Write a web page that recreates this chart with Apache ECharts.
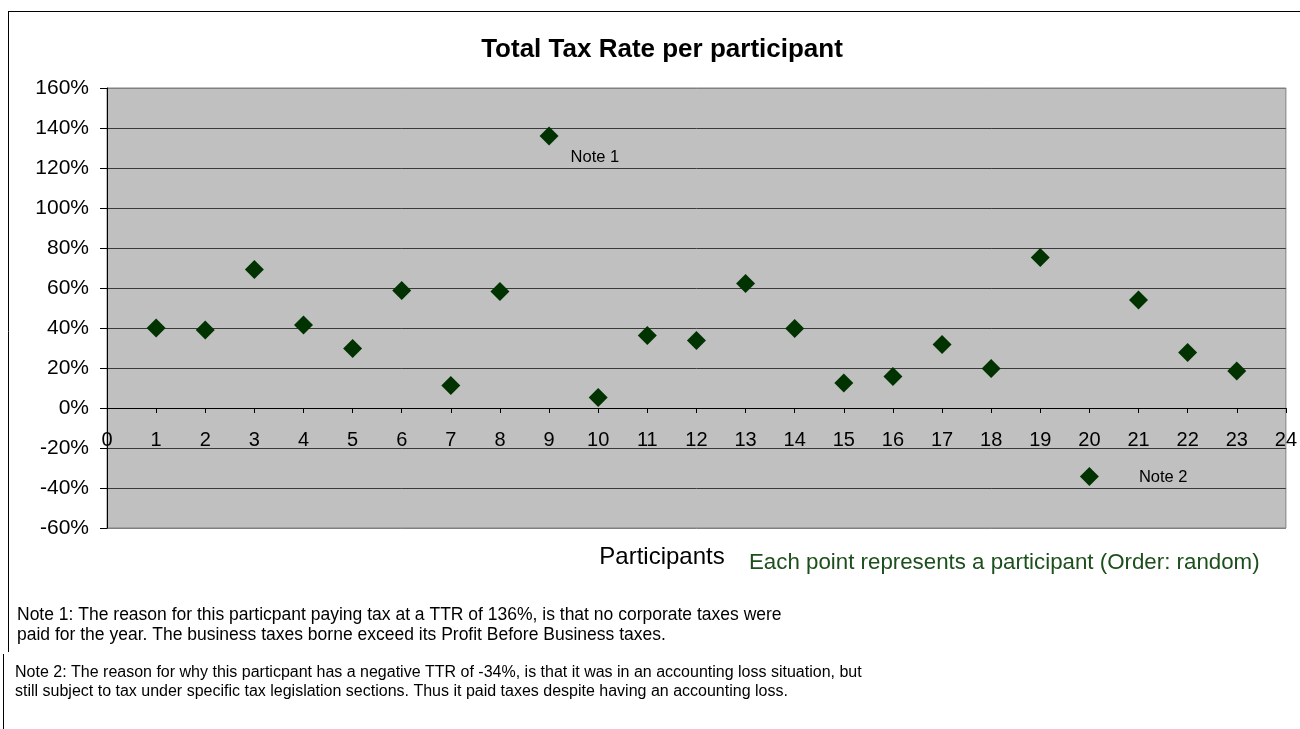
<!DOCTYPE html>
<html>
<head>
<meta charset="utf-8">
<script src="https://cdn.jsdelivr.net/npm/echarts@6/dist/echarts.min.js"></script>
<style>
  html, body { margin: 0; padding: 0; background: #fff; }
  #chart { width: 1300px; height: 729px; }
</style>
</head>
<body>
<div id="chart"></div>
<script>
  // Data
  const participants = [1, 2, 3, 4, 5, 6, 7, 8, 9, 10, 11, 12, 13, 14, 15, 16, 17, 18, 19, 20, 21, 22, 23];
  const ttr = [40, 39, 69.3, 41.5, 29.7, 58.7, 11.2, 58.2, 136, 5.3, 36.3, 33.7, 62.2, 39.7, 12.5, 15.8, 31.8, 19.8, 75.3, -34.3, 54, 27.7, 18.5];
  const notes = { 9: 'Note 1', 20: 'Note 2' };
  const yTicks = [-60, 160, 20];   // min, max, step
  const xTicks = [0, 24, 1];

  const font = 'Liberation Sans, Arial, sans-serif';
  const chart = echarts.init(document.getElementById('chart'));

  const points = participants.map((p, i) => {
    const item = { value: [p, ttr[i]] };
    if (p === 9) {
      item.label = { show: true, formatter: notes[9], position: 'right', offset: [7, 21] };
    } else if (p === 20) {
      item.label = { show: true, formatter: notes[20], position: 'right', offset: [35, 1] };
    }
    return item;
  });

  // grid line colours: border colour at the two ends, dark in between
  const splitColors = [];
  const nLines = (yTicks[1] - yTicks[0]) / yTicks[2] + 1;
  for (let i = 0; i < nLines; i++) {
    splitColors.push(i === 0 || i === nLines - 1 ? '#808080' : '#3a3a3a');
  }

  const gridTop = 88, gridBottom = 201, chartH = 729;
  // the x axis crosses at 0%: shift it up from the bottom edge of the plot
  const plotH = chartH - gridTop - gridBottom;
  const zeroShift = plotH * (0 - yTicks[0]) / (yTicks[1] - yTicks[0]);

  chart.setOption({
    backgroundColor: '#ffffff',
    animation: false,
    textStyle: { fontFamily: font },
    grid: {
      left: 107, right: 9, top: gridTop, bottom: gridBottom,
      show: true,
      backgroundColor: '#c0c0c0',
      borderColor: '#808080',
      borderWidth: 1
    },
    xAxis: {
      type: 'value',
      min: xTicks[0], max: xTicks[1], interval: xTicks[2],
      offset: -zeroShift,
      axisLine: { onZero: false, lineStyle: { color: '#000', width: 1 } },
      axisTick: { show: true, length: 5, lineStyle: { color: '#000' } },
      axisLabel: { color: '#000', fontSize: 20, margin: 22, fontFamily: font, showMinLabel: true, showMaxLabel: true },
      splitLine: { show: false }
    },
    yAxis: {
      type: 'value',
      min: yTicks[0], max: yTicks[1], interval: yTicks[2],
      axisLine: { show: true, lineStyle: { color: '#000', width: 1 } },
      axisTick: { show: true, length: 7, lineStyle: { color: '#000' } },
      axisLabel: { color: '#000', fontSize: 21, margin: 18, fontFamily: font, formatter: '{value}%' },
      splitLine: { show: true, lineStyle: { color: splitColors, width: 1 } }
    },
    series: [{
      type: 'scatter',
      symbol: 'diamond',
      symbolSize: 19,
      itemStyle: { color: '#003300', opacity: 1 },
      label: { color: '#000', fontSize: 16.5, fontFamily: font },
      data: points
    }],
    graphic: [
      // outer frame of the chart object
      { type: 'line', shape: { x1: 8, y1: 11.5, x2: 1300, y2: 11.5 }, style: { stroke: '#000', lineWidth: 1 } },
      { type: 'line', shape: { x1: 8.5, y1: 11, x2: 8.5, y2: 652 }, style: { stroke: '#000', lineWidth: 1 } },
      { type: 'line', shape: { x1: 3.5, y1: 654, x2: 3.5, y2: 729 }, style: { stroke: '#000', lineWidth: 1 } },
      {
        type: 'text', x: 662, y: 50,
        style: { text: 'Total Tax Rate per participant', font: 'bold 26px ' + font, fill: '#000', textAlign: 'center', textVerticalAlign: 'middle' }
      },
      {
        type: 'text', x: 662, y: 557,
        style: { text: 'Participants', font: '24px ' + font, fill: '#000', textAlign: 'center', textVerticalAlign: 'middle' }
      },
      {
        type: 'text', x: 749, y: 563,
        style: { text: 'Each point represents a participant (Order: random)', font: '22.3px ' + font, fill: '#1c4f1c', textAlign: 'left', textVerticalAlign: 'middle' }
      },
      {
        type: 'text', x: 17, y: 615,
        style: { text: 'Note 1: The reason for this particpant paying tax at a TTR of 136%, is that no corporate taxes were', font: '17.5px ' + font, fill: '#000', textVerticalAlign: 'middle' }
      },
      {
        type: 'text', x: 17, y: 635,
        style: { text: 'paid for the year. The business taxes borne exceed its Profit Before Business taxes.', font: '17.5px ' + font, fill: '#000', textVerticalAlign: 'middle' }
      },
      {
        type: 'text', x: 15, y: 673,
        style: { text: 'Note 2: The reason for why this particpant has a negative TTR of -34%, is that it was in an accounting loss situation, but', font: '16px ' + font, fill: '#000', textVerticalAlign: 'middle' }
      },
      {
        type: 'text', x: 15, y: 692,
        style: { text: 'still subject to tax under specific tax legislation sections. Thus it paid taxes despite having an accounting loss.', font: '16px ' + font, fill: '#000', textVerticalAlign: 'middle' }
      }
    ]
  });
</script>
</body>
</html>
